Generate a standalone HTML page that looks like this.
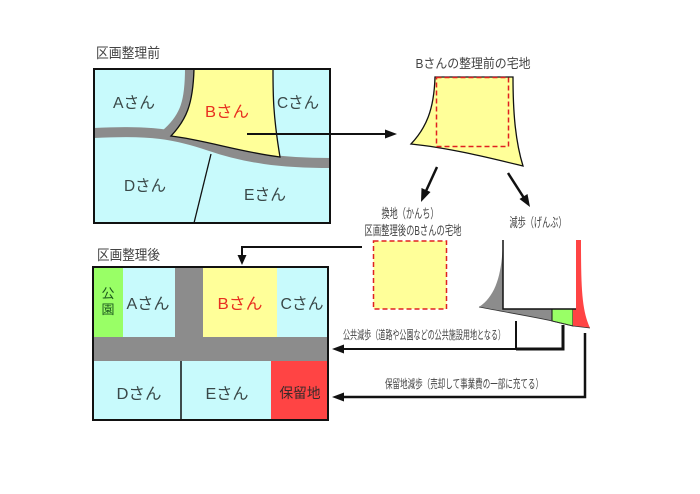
<!DOCTYPE html>
<html><head><meta charset="utf-8">
<style>
html,body{margin:0;padding:0;background:#fff;}
svg{display:block;}
text{font-family:"Liberation Sans","Noto Sans CJK JP",sans-serif;}
</style></head>
<body>
<svg width="700" height="494" viewBox="0 0 700 494" xmlns="http://www.w3.org/2000/svg">
<rect x="0" y="0" width="700" height="494" fill="#fff"/>

<!-- Titles -->
<text x="96" y="58" font-size="14" fill="#444" textLength="64" lengthAdjust="spacingAndGlyphs">区画整理前</text>
<text x="97" y="260" font-size="14" fill="#444" textLength="63" lengthAdjust="spacingAndGlyphs">区画整理後</text>

<!-- Top map -->
<rect x="94" y="69" width="236" height="154" fill="#c8fafc"/>
<path d="M94,133 C150,130 175,134 210,146 S280,163 331,163" fill="none" stroke="#8c8c8c" stroke-width="10"/>
<path d="M190,68 C190,100 186,117 166,134" fill="none" stroke="#8c8c8c" stroke-width="10"/>
<path d="M194,69 L273,69 C273,95 273,115 280,157 C240,152 205,140 171,136 C186,120 193,105 194,69 Z" fill="#ffff99" stroke="#111" stroke-width="1.3"/>
<line x1="211" y1="154" x2="194" y2="223" stroke="#111" stroke-width="1.3"/>
<rect x="94" y="69" width="236" height="154" fill="none" stroke="#111" stroke-width="2"/>
<text x="134" y="108" font-size="16" fill="#3a4848" text-anchor="middle" textLength="42" lengthAdjust="spacingAndGlyphs">Aさん</text>
<text x="227" y="117" font-size="16" fill="#e83020" text-anchor="middle" textLength="44" lengthAdjust="spacingAndGlyphs">Bさん</text>
<text x="298" y="108" font-size="16" fill="#3a4848" text-anchor="middle" textLength="42" lengthAdjust="spacingAndGlyphs">Cさん</text>
<text x="145" y="191" font-size="16" fill="#3a4848" text-anchor="middle" textLength="42" lengthAdjust="spacingAndGlyphs">Dさん</text>
<text x="265" y="200" font-size="16" fill="#3a4848" text-anchor="middle" textLength="42" lengthAdjust="spacingAndGlyphs">Eさん</text>

<!-- Arrow B -> right -->
<line x1="247" y1="134" x2="386" y2="134" stroke="#111" stroke-width="2"/>
<polygon points="397,134 385,129.5 385,138.5" fill="#111"/>

<!-- B before shape -->
<text x="473" y="68" font-size="13" fill="#444" text-anchor="middle" textLength="115" lengthAdjust="spacingAndGlyphs">Bさんの整理前の宅地</text>
<path d="M435,77 L513,77 C513,110 515,140 523,166 C490,158 450,148 411,144 C426,128 434,110 435,77 Z" fill="#ffff99" stroke="#111" stroke-width="1.3"/>
<rect x="436.5" y="77.5" width="72" height="69" fill="none" stroke="#e02020" stroke-width="1.5" stroke-dasharray="5,3"/>

<!-- Down arrows -->
<line x1="437" y1="167" x2="426" y2="191" stroke="#111" stroke-width="2.5"/>
<polygon points="421,202 421.5,188 430.5,192" fill="#111"/>
<line x1="508" y1="173" x2="524" y2="198" stroke="#111" stroke-width="2.5"/>
<polygon points="530,207 519.5,199 527.5,194" fill="#111"/>

<!-- Labels -->
<text x="410" y="218" font-size="13" fill="#444" text-anchor="middle" textLength="57" lengthAdjust="spacingAndGlyphs">換地（かんち）</text>
<text x="413" y="235" font-size="13" fill="#444" text-anchor="middle" textLength="97" lengthAdjust="spacingAndGlyphs">区画整理後のBさんの宅地</text>
<text x="538" y="227" font-size="13" fill="#444" text-anchor="middle" textLength="57" lengthAdjust="spacingAndGlyphs">減歩（げんぶ）</text>

<!-- after yellow square -->
<rect x="373.5" y="241" width="73" height="68" fill="#ffff99" stroke="#e02020" stroke-width="1.5" stroke-dasharray="5,3"/>

<!-- arrow to lower B -->
<polyline points="362,247 242,247 242,256" fill="none" stroke="#111" stroke-width="2"/>
<polygon points="242,265 237.5,255 246.5,255" fill="#111"/>

<!-- Lower map -->
<rect x="93" y="267" width="235" height="153" fill="#c8fafc"/>
<rect x="93" y="267" width="30" height="70" fill="#99ff66"/>
<rect x="175" y="267" width="28" height="70" fill="#8c8c8c"/>
<rect x="203" y="267" width="74" height="70" fill="#ffff99"/>
<rect x="93" y="337" width="235" height="24" fill="#8c8c8c"/>
<rect x="271" y="361" width="57" height="59" fill="#ff4444"/>
<line x1="181" y1="361" x2="181" y2="420" stroke="#111" stroke-width="1.5"/>
<rect x="93" y="267" width="235" height="153" fill="none" stroke="#111" stroke-width="2"/>
<text x="108" y="298" font-size="13" fill="#1d5a1d" text-anchor="middle">公</text>
<text x="108" y="314" font-size="13" fill="#1d5a1d" text-anchor="middle">園</text>
<text x="148" y="309" font-size="16" fill="#3a4848" text-anchor="middle" textLength="43" lengthAdjust="spacingAndGlyphs">Aさん</text>
<text x="240" y="309" font-size="16" fill="#e83020" text-anchor="middle" textLength="45" lengthAdjust="spacingAndGlyphs">Bさん</text>
<text x="302" y="309" font-size="16" fill="#3a4848" text-anchor="middle" textLength="43" lengthAdjust="spacingAndGlyphs">Cさん</text>
<text x="139" y="399" font-size="16" fill="#3a4848" text-anchor="middle" textLength="45" lengthAdjust="spacingAndGlyphs">Dさん</text>
<text x="227" y="399" font-size="16" fill="#3a4848" text-anchor="middle" textLength="43" lengthAdjust="spacingAndGlyphs">Eさん</text>
<text x="300" y="398" font-size="14" fill="#3a2a2a" text-anchor="middle" textLength="41" lengthAdjust="spacingAndGlyphs">保留地</text>

<!-- 減歩 shape -->
<path d="M503,240 C502,272 497,295 479,307 C510,313 540,318 552,321 L552,309 L503,309 Z" fill="#8c8c8c"/>
<path d="M552,309 L573,309 L573,326 L552,321 Z" fill="#99ff66" stroke="#111" stroke-width="1"/>
<path d="M576,240 L581,240 C581,290 582,310 590,328 L573,326 L573,309 L576,309 Z" fill="#ff4444"/>
<polyline points="503,240 503,309 576,309" fill="none" stroke="#111" stroke-width="1.5"/>
<path d="M479,307 C510,313 540,318 552,321 L573,326 L590,328" fill="none" stroke="#333" stroke-width="0.8"/>

<!-- connectors -->
<polyline points="516,321 516,349 343,349" fill="none" stroke="#111" stroke-width="2"/>
<polyline points="563,325 563,349 516,349" fill="none" stroke="#111" stroke-width="3"/>
<polygon points="332,349 344,344.5 344,353.5" fill="#111"/>
<polyline points="585,333 585,397 343,397" fill="none" stroke="#111" stroke-width="2.5"/>
<polygon points="332,397 344,392.5 344,401.5" fill="#111"/>

<text x="343" y="339" font-size="12" fill="#444" textLength="162" lengthAdjust="spacingAndGlyphs">公共減歩（道路や公園などの公共施設用地となる）</text>
<text x="385" y="388" font-size="12" fill="#444" textLength="158" lengthAdjust="spacingAndGlyphs">保留地減歩（売却して事業費の一部に充てる）</text>
</svg>
</body></html>
